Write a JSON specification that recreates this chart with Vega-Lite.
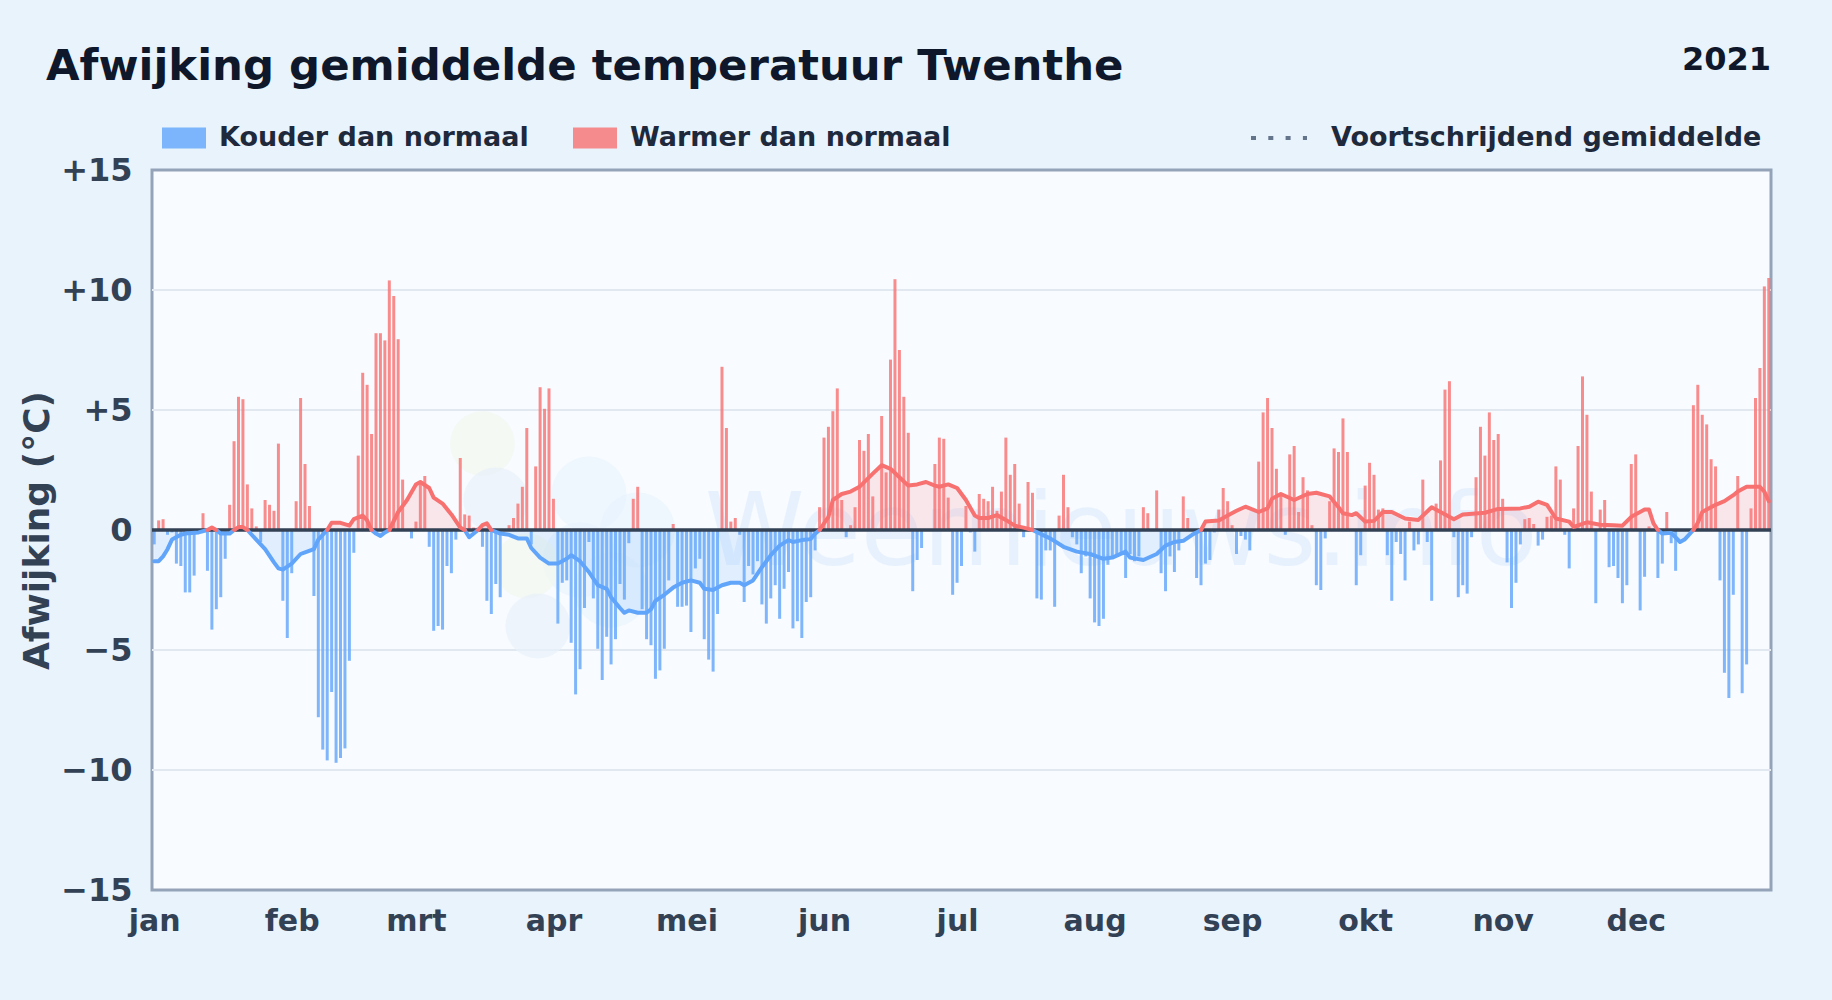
{
"$schema":"https://vega.github.io/schema/vega-lite/v6.json",
"autosize":"none",
"width":1619,"height":720,
"padding":{"left":152,"top":170,"right":61,"bottom":110},
"background":"#e8f3fc",
"view":{"fill":"#f8fbff","stroke":"#94a3b8","strokeWidth":3},
"config":{"font":"DejaVu Sans"},
"title":{"text":"Afwijking gemiddelde temperatuur Twenthe","anchor":"start","frame":"group","dx":-106,"offset":-45,"fontSize":43.4,"fontWeight":"bold","color":"#0f172a","font":"DejaVu Sans"},
"datasets":{
"koud":[{"dag":0,"w":-0.6},{"dag":3,"w":-0.2},{"dag":4,"w":-0.1},{"dag":5,"w":-1.4},{"dag":6,"w":-1.5},{"dag":7,"w":-2.6},{"dag":8,"w":-2.6},{"dag":9,"w":-1.9},{"dag":12,"w":-1.7},{"dag":13,"w":-4.15},{"dag":14,"w":-3.3},{"dag":15,"w":-2.8},{"dag":16,"w":-1.2},{"dag":24,"w":-0.5},{"dag":29,"w":-2.95},{"dag":30,"w":-4.5},{"dag":31,"w":-1.8},{"dag":36,"w":-2.75},{"dag":37,"w":-7.8},{"dag":38,"w":-9.15},{"dag":39,"w":-9.6},{"dag":40,"w":-6.75},{"dag":41,"w":-9.7},{"dag":42,"w":-9.5},{"dag":43,"w":-9.1},{"dag":44,"w":-5.45},{"dag":45,"w":-0.95},{"dag":58,"w":-0.35},{"dag":62,"w":-0.7},{"dag":63,"w":-4.2},{"dag":64,"w":-4},{"dag":65,"w":-4.15},{"dag":66,"w":-1.5},{"dag":67,"w":-1.8},{"dag":68,"w":-0.4},{"dag":74,"w":-0.7},{"dag":75,"w":-2.95},{"dag":76,"w":-3.5},{"dag":77,"w":-2.25},{"dag":78,"w":-2.8},{"dag":85,"w":-0.6},{"dag":91,"w":-3.9},{"dag":92,"w":-2.2},{"dag":93,"w":-2.1},{"dag":94,"w":-4.7},{"dag":95,"w":-6.85},{"dag":96,"w":-5.8},{"dag":97,"w":-3.25},{"dag":98,"w":-0.5},{"dag":99,"w":-2.85},{"dag":100,"w":-4.95},{"dag":101,"w":-6.25},{"dag":102,"w":-4.45},{"dag":103,"w":-5.6},{"dag":104,"w":-4.55},{"dag":105,"w":-2.25},{"dag":106,"w":-2.9},{"dag":107,"w":-0.55},{"dag":110,"w":-3.3},{"dag":111,"w":-4.55},{"dag":112,"w":-4.8},{"dag":113,"w":-6.2},{"dag":114,"w":-5.85},{"dag":115,"w":-4.95},{"dag":116,"w":-2.1},{"dag":118,"w":-3.2},{"dag":119,"w":-3.2},{"dag":120,"w":-3.15},{"dag":121,"w":-4.25},{"dag":122,"w":-1.6},{"dag":123,"w":-1.2},{"dag":124,"w":-4.55},{"dag":125,"w":-5.4},{"dag":126,"w":-5.9},{"dag":127,"w":-3.5},{"dag":132,"w":-0.2},{"dag":133,"w":-3},{"dag":134,"w":-1.5},{"dag":135,"w":-1.85},{"dag":136,"w":-1.3},{"dag":137,"w":-3.1},{"dag":138,"w":-3.9},{"dag":139,"w":-2.85},{"dag":140,"w":-2.3},{"dag":141,"w":-3.7},{"dag":142,"w":-2.45},{"dag":143,"w":-1.75},{"dag":144,"w":-4.1},{"dag":145,"w":-3.8},{"dag":146,"w":-4.5},{"dag":147,"w":-3},{"dag":148,"w":-2.8},{"dag":149,"w":-0.85},{"dag":156,"w":-0.3},{"dag":171,"w":-2.55},{"dag":172,"w":-1.25},{"dag":173,"w":-0.75},{"dag":180,"w":-2.7},{"dag":181,"w":-2.2},{"dag":182,"w":-1.5},{"dag":184,"w":-0.1},{"dag":185,"w":-0.9},{"dag":196,"w":-0.3},{"dag":199,"w":-2.85},{"dag":200,"w":-2.9},{"dag":201,"w":-0.85},{"dag":202,"w":-0.85},{"dag":203,"w":-3.2},{"dag":207,"w":-0.3},{"dag":208,"w":-0.6},{"dag":209,"w":-1.8},{"dag":210,"w":-1.1},{"dag":211,"w":-2.85},{"dag":212,"w":-3.85},{"dag":213,"w":-4},{"dag":214,"w":-3.7},{"dag":215,"w":-1.45},{"dag":216,"w":-1.2},{"dag":217,"w":-1.1},{"dag":218,"w":-1},{"dag":219,"w":-2},{"dag":220,"w":-1},{"dag":221,"w":-1.3},{"dag":222,"w":-1.1},{"dag":227,"w":-1.8},{"dag":228,"w":-2.55},{"dag":229,"w":-1.1},{"dag":230,"w":-1.75},{"dag":231,"w":-0.85},{"dag":235,"w":-2},{"dag":236,"w":-2.3},{"dag":237,"w":-1.4},{"dag":238,"w":-1.25},{"dag":239,"w":-0.1},{"dag":244,"w":-1},{"dag":245,"w":-0.25},{"dag":246,"w":-0.4},{"dag":247,"w":-0.85},{"dag":255,"w":-0.2},{"dag":262,"w":-2.3},{"dag":263,"w":-2.5},{"dag":264,"w":-0.35},{"dag":271,"w":-2.3},{"dag":272,"w":-1.05},{"dag":278,"w":-1.05},{"dag":279,"w":-2.95},{"dag":280,"w":-0.5},{"dag":281,"w":-1},{"dag":282,"w":-2.1},{"dag":284,"w":-0.85},{"dag":285,"w":-0.6},{"dag":287,"w":-0.5},{"dag":288,"w":-2.95},{"dag":293,"w":-0.3},{"dag":294,"w":-2.8},{"dag":295,"w":-2.3},{"dag":296,"w":-2.65},{"dag":297,"w":-0.3},{"dag":305,"w":-1.35},{"dag":306,"w":-3.25},{"dag":307,"w":-2.2},{"dag":308,"w":-0.6},{"dag":312,"w":-0.65},{"dag":313,"w":-0.4},{"dag":318,"w":-0.2},{"dag":319,"w":-1.6},{"dag":325,"w":-3.05},{"dag":328,"w":-1.55},{"dag":329,"w":-1.5},{"dag":330,"w":-2},{"dag":331,"w":-3.05},{"dag":332,"w":-2.3},{"dag":335,"w":-3.35},{"dag":336,"w":-1.95},{"dag":339,"w":-2},{"dag":340,"w":-1.4},{"dag":342,"w":-0.55},{"dag":343,"w":-1.7},{"dag":353,"w":-2.1},{"dag":354,"w":-5.95},{"dag":355,"w":-7},{"dag":356,"w":-2.7},{"dag":358,"w":-6.8},{"dag":359,"w":-5.6}],
"warm":[{"dag":1,"w":0.4},{"dag":2,"w":0.45},{"dag":11,"w":0.7},{"dag":17,"w":1.05},{"dag":18,"w":3.7},{"dag":19,"w":5.55},{"dag":20,"w":5.45},{"dag":21,"w":1.9},{"dag":22,"w":0.9},{"dag":23,"w":0.15},{"dag":25,"w":1.25},{"dag":26,"w":1.05},{"dag":27,"w":0.8},{"dag":28,"w":3.6},{"dag":32,"w":1.2},{"dag":33,"w":5.5},{"dag":34,"w":2.75},{"dag":35,"w":1},{"dag":46,"w":3.1},{"dag":47,"w":6.55},{"dag":48,"w":6.05},{"dag":49,"w":4},{"dag":50,"w":8.2},{"dag":51,"w":8.2},{"dag":52,"w":7.9},{"dag":53,"w":10.4},{"dag":54,"w":9.75},{"dag":55,"w":7.95},{"dag":56,"w":2.1},{"dag":59,"w":0.35},{"dag":60,"w":2},{"dag":61,"w":2.25},{"dag":69,"w":3},{"dag":70,"w":0.65},{"dag":71,"w":0.6},{"dag":72,"w":0.1},{"dag":73,"w":0.1},{"dag":80,"w":0.2},{"dag":81,"w":0.5},{"dag":82,"w":1.1},{"dag":83,"w":1.8},{"dag":84,"w":4.25},{"dag":86,"w":2.65},{"dag":87,"w":5.95},{"dag":88,"w":5.05},{"dag":89,"w":5.9},{"dag":90,"w":1.3},{"dag":108,"w":1.3},{"dag":109,"w":1.8},{"dag":117,"w":0.25},{"dag":128,"w":6.8},{"dag":129,"w":4.25},{"dag":130,"w":0.35},{"dag":131,"w":0.5},{"dag":150,"w":0.95},{"dag":151,"w":3.85},{"dag":152,"w":4.3},{"dag":153,"w":4.95},{"dag":154,"w":5.9},{"dag":155,"w":1.25},{"dag":157,"w":0.2},{"dag":158,"w":0.95},{"dag":159,"w":3.75},{"dag":160,"w":3.3},{"dag":161,"w":4},{"dag":162,"w":1.4},{"dag":164,"w":4.75},{"dag":165,"w":2.4},{"dag":166,"w":7.1},{"dag":167,"w":10.45},{"dag":168,"w":7.5},{"dag":169,"w":5.55},{"dag":170,"w":4.05},{"dag":176,"w":2.75},{"dag":177,"w":3.85},{"dag":178,"w":3.8},{"dag":179,"w":1.35},{"dag":183,"w":1},{"dag":186,"w":1.5},{"dag":187,"w":1.3},{"dag":188,"w":1.2},{"dag":189,"w":1.8},{"dag":190,"w":0.8},{"dag":191,"w":1.6},{"dag":192,"w":3.85},{"dag":193,"w":2.3},{"dag":194,"w":2.75},{"dag":195,"w":1.1},{"dag":197,"w":2},{"dag":198,"w":1.55},{"dag":204,"w":0.6},{"dag":205,"w":2.3},{"dag":206,"w":0.95},{"dag":223,"w":0.95},{"dag":224,"w":0.7},{"dag":226,"w":1.65},{"dag":232,"w":1.4},{"dag":233,"w":0.5},{"dag":240,"w":0.85},{"dag":241,"w":1.75},{"dag":242,"w":1.2},{"dag":243,"w":0.2},{"dag":249,"w":2.85},{"dag":250,"w":4.9},{"dag":251,"w":5.5},{"dag":252,"w":4.25},{"dag":253,"w":2.55},{"dag":254,"w":1.45},{"dag":256,"w":3.15},{"dag":257,"w":3.5},{"dag":258,"w":0.75},{"dag":259,"w":2.2},{"dag":260,"w":1.65},{"dag":261,"w":0.2},{"dag":265,"w":1.2},{"dag":266,"w":3.4},{"dag":267,"w":3.25},{"dag":268,"w":4.65},{"dag":269,"w":3.25},{"dag":273,"w":1.85},{"dag":274,"w":2.8},{"dag":275,"w":2.3},{"dag":276,"w":0.85},{"dag":277,"w":0.9},{"dag":283,"w":0.35},{"dag":286,"w":2.1},{"dag":289,"w":1.1},{"dag":290,"w":2.9},{"dag":291,"w":5.85},{"dag":292,"w":6.2},{"dag":298,"w":2.2},{"dag":299,"w":4.3},{"dag":300,"w":3.1},{"dag":301,"w":4.9},{"dag":302,"w":3.75},{"dag":303,"w":4},{"dag":304,"w":1.3},{"dag":309,"w":0.45},{"dag":310,"w":0.5},{"dag":311,"w":0.25},{"dag":314,"w":0.55},{"dag":315,"w":0.6},{"dag":316,"w":2.65},{"dag":317,"w":2.1},{"dag":320,"w":0.9},{"dag":321,"w":3.5},{"dag":322,"w":6.4},{"dag":323,"w":4.8},{"dag":324,"w":1.6},{"dag":326,"w":0.85},{"dag":327,"w":1.25},{"dag":333,"w":2.75},{"dag":334,"w":3.15},{"dag":337,"w":0.15},{"dag":341,"w":0.75},{"dag":347,"w":5.2},{"dag":348,"w":6.05},{"dag":349,"w":4.8},{"dag":350,"w":4.4},{"dag":351,"w":2.95},{"dag":352,"w":2.65},{"dag":357,"w":2.25},{"dag":360,"w":0.9},{"dag":361,"w":5.5},{"dag":362,"w":6.75},{"dag":363,"w":10.15},{"dag":364,"w":10.5}],
"gemKoud":[{"seg":"A","dag":0,"w":-1.3},{"seg":"A","dag":1,"w":-1.3},{"seg":"A","dag":2,"w":-1.1},{"seg":"A","dag":3,"w":-0.8},{"seg":"A","dag":4,"w":-0.4},{"seg":"A","dag":6,"w":-0.2},{"seg":"A","dag":7,"w":-0.15},{"seg":"A","dag":10,"w":-0.1},{"seg":"A","dag":12,"w":0},{"seg":"B","dag":14,"w":0},{"seg":"B","dag":15,"w":-0.15},{"seg":"B","dag":17,"w":-0.15},{"seg":"B","dag":18,"w":0},{"seg":"C","dag":21,"w":0},{"seg":"C","dag":23,"w":-0.4},{"seg":"C","dag":25,"w":-0.8},{"seg":"C","dag":27,"w":-1.35},{"seg":"C","dag":28,"w":-1.6},{"seg":"C","dag":29,"w":-1.65},{"seg":"C","dag":31,"w":-1.4},{"seg":"C","dag":33,"w":-1},{"seg":"C","dag":34,"w":-0.93},{"seg":"C","dag":36,"w":-0.8},{"seg":"C","dag":37,"w":-0.4},{"seg":"C","dag":39,"w":0},{"seg":"D","dag":49,"w":0},{"seg":"D","dag":50,"w":-0.15},{"seg":"D","dag":51,"w":-0.25},{"seg":"D","dag":52,"w":-0.1},{"seg":"D","dag":53,"w":0},{"seg":"E","dag":70,"w":0},{"seg":"E","dag":71,"w":-0.3},{"seg":"E","dag":73,"w":0},{"seg":"F","dag":76,"w":0},{"seg":"F","dag":78,"w":-0.15},{"seg":"F","dag":80,"w":-0.2},{"seg":"F","dag":82,"w":-0.35},{"seg":"F","dag":84,"w":-0.35},{"seg":"F","dag":85,"w":-0.75},{"seg":"F","dag":87,"w":-1.15},{"seg":"F","dag":89,"w":-1.4},{"seg":"F","dag":91,"w":-1.4},{"seg":"F","dag":93,"w":-1.2},{"seg":"F","dag":94,"w":-1.05},{"seg":"F","dag":96,"w":-1.3},{"seg":"F","dag":98,"w":-1.75},{"seg":"F","dag":100,"w":-2.3},{"seg":"F","dag":102,"w":-2.45},{"seg":"F","dag":103,"w":-2.8},{"seg":"F","dag":105,"w":-3.25},{"seg":"F","dag":106,"w":-3.45},{"seg":"F","dag":107,"w":-3.35},{"seg":"F","dag":109,"w":-3.45},{"seg":"F","dag":111,"w":-3.45},{"seg":"F","dag":112,"w":-3.3},{"seg":"F","dag":113,"w":-2.95},{"seg":"F","dag":115,"w":-2.7},{"seg":"F","dag":117,"w":-2.4},{"seg":"F","dag":119,"w":-2.2},{"seg":"F","dag":121,"w":-2.1},{"seg":"F","dag":123,"w":-2.2},{"seg":"F","dag":124,"w":-2.45},{"seg":"F","dag":126,"w":-2.5},{"seg":"F","dag":128,"w":-2.3},{"seg":"F","dag":130,"w":-2.2},{"seg":"F","dag":132,"w":-2.2},{"seg":"F","dag":133,"w":-2.3},{"seg":"F","dag":135,"w":-2.1},{"seg":"F","dag":137,"w":-1.55},{"seg":"F","dag":139,"w":-1.05},{"seg":"F","dag":141,"w":-0.65},{"seg":"F","dag":143,"w":-0.42},{"seg":"F","dag":144,"w":-0.5},{"seg":"F","dag":146,"w":-0.42},{"seg":"F","dag":148,"w":-0.38},{"seg":"F","dag":149,"w":-0.15},{"seg":"F","dag":150,"w":0},{"seg":"G","dag":198,"w":0},{"seg":"G","dag":200,"w":-0.18},{"seg":"G","dag":202,"w":-0.35},{"seg":"G","dag":205,"w":-0.7},{"seg":"G","dag":208,"w":-0.9},{"seg":"G","dag":211,"w":-1},{"seg":"G","dag":214,"w":-1.2},{"seg":"G","dag":216,"w":-1.15},{"seg":"G","dag":219,"w":-0.9},{"seg":"G","dag":220,"w":-1.15},{"seg":"G","dag":223,"w":-1.25},{"seg":"G","dag":226,"w":-1},{"seg":"G","dag":228,"w":-0.65},{"seg":"G","dag":230,"w":-0.5},{"seg":"G","dag":232,"w":-0.45},{"seg":"G","dag":234,"w":-0.2},{"seg":"G","dag":236,"w":0},{"seg":"H","dag":339,"w":0},{"seg":"H","dag":340,"w":-0.15},{"seg":"H","dag":342,"w":-0.12},{"seg":"H","dag":344,"w":-0.5},{"seg":"H","dag":345,"w":-0.4},{"seg":"H","dag":347,"w":0}],
"gemWarm":[{"seg":"a","dag":12,"w":0},{"seg":"a","dag":13,"w":0.1},{"seg":"a","dag":14,"w":0},{"seg":"b","dag":18,"w":0},{"seg":"b","dag":19,"w":0.12},{"seg":"b","dag":20,"w":0.12},{"seg":"b","dag":21,"w":0},{"seg":"c","dag":39,"w":0},{"seg":"c","dag":40,"w":0.3},{"seg":"c","dag":42,"w":0.3},{"seg":"c","dag":44,"w":0.18},{"seg":"c","dag":45,"w":0.45},{"seg":"c","dag":47,"w":0.6},{"seg":"c","dag":48,"w":0.4},{"seg":"c","dag":49,"w":0},{"seg":"d","dag":53,"w":0},{"seg":"d","dag":55,"w":0.75},{"seg":"d","dag":57,"w":1.25},{"seg":"d","dag":59,"w":1.9},{"seg":"d","dag":60,"w":2},{"seg":"d","dag":62,"w":1.75},{"seg":"d","dag":63,"w":1.35},{"seg":"d","dag":65,"w":1.1},{"seg":"d","dag":67,"w":0.65},{"seg":"d","dag":69,"w":0.1},{"seg":"d","dag":70,"w":0},{"seg":"e","dag":73,"w":0},{"seg":"e","dag":74,"w":0.2},{"seg":"e","dag":75,"w":0.28},{"seg":"e","dag":76,"w":0},{"seg":"f","dag":150,"w":0},{"seg":"f","dag":152,"w":0.55},{"seg":"f","dag":153,"w":1.25},{"seg":"f","dag":155,"w":1.5},{"seg":"f","dag":157,"w":1.6},{"seg":"f","dag":159,"w":1.8},{"seg":"f","dag":162,"w":2.35},{"seg":"f","dag":164,"w":2.7},{"seg":"f","dag":166,"w":2.55},{"seg":"f","dag":168,"w":2.2},{"seg":"f","dag":170,"w":1.85},{"seg":"f","dag":172,"w":1.9},{"seg":"f","dag":174,"w":2},{"seg":"f","dag":176,"w":1.85},{"seg":"f","dag":177,"w":1.8},{"seg":"f","dag":179,"w":1.9},{"seg":"f","dag":181,"w":1.75},{"seg":"f","dag":182,"w":1.5},{"seg":"f","dag":183,"w":1.25},{"seg":"f","dag":185,"w":0.6},{"seg":"f","dag":186,"w":0.5},{"seg":"f","dag":188,"w":0.5},{"seg":"f","dag":190,"w":0.62},{"seg":"f","dag":192,"w":0.42},{"seg":"f","dag":194,"w":0.18},{"seg":"f","dag":196,"w":0.1},{"seg":"f","dag":198,"w":0},{"seg":"g","dag":236,"w":0},{"seg":"g","dag":237,"w":0.35},{"seg":"g","dag":240,"w":0.4},{"seg":"g","dag":242,"w":0.6},{"seg":"g","dag":244,"w":0.8},{"seg":"g","dag":246,"w":0.97},{"seg":"g","dag":249,"w":0.75},{"seg":"g","dag":251,"w":0.9},{"seg":"g","dag":252,"w":1.3},{"seg":"g","dag":254,"w":1.5},{"seg":"g","dag":257,"w":1.25},{"seg":"g","dag":260,"w":1.5},{"seg":"g","dag":262,"w":1.55},{"seg":"g","dag":265,"w":1.4},{"seg":"g","dag":267,"w":0.95},{"seg":"g","dag":268,"w":0.7},{"seg":"g","dag":270,"w":0.62},{"seg":"g","dag":271,"w":0.7},{"seg":"g","dag":273,"w":0.35},{"seg":"g","dag":275,"w":0.38},{"seg":"g","dag":277,"w":0.75},{"seg":"g","dag":279,"w":0.75},{"seg":"g","dag":282,"w":0.48},{"seg":"g","dag":285,"w":0.42},{"seg":"g","dag":288,"w":0.95},{"seg":"g","dag":290,"w":0.75},{"seg":"g","dag":293,"w":0.45},{"seg":"g","dag":295,"w":0.65},{"seg":"g","dag":300,"w":0.72},{"seg":"g","dag":303,"w":0.88},{"seg":"g","dag":308,"w":0.9},{"seg":"g","dag":310,"w":0.97},{"seg":"g","dag":312,"w":1.18},{"seg":"g","dag":314,"w":1.05},{"seg":"g","dag":316,"w":0.48},{"seg":"g","dag":319,"w":0.35},{"seg":"g","dag":320,"w":0.13},{"seg":"g","dag":323,"w":0.32},{"seg":"g","dag":326,"w":0.22},{"seg":"g","dag":329,"w":0.2},{"seg":"g","dag":331,"w":0.18},{"seg":"g","dag":333,"w":0.55},{"seg":"g","dag":336,"w":0.85},{"seg":"g","dag":337,"w":0.85},{"seg":"g","dag":338,"w":0.28},{"seg":"g","dag":339,"w":0},{"seg":"h","dag":347,"w":0},{"seg":"h","dag":348,"w":0.3},{"seg":"h","dag":349,"w":0.75},{"seg":"h","dag":350,"w":0.85},{"seg":"h","dag":352,"w":1.05},{"seg":"h","dag":354,"w":1.2},{"seg":"h","dag":356,"w":1.45},{"seg":"h","dag":357,"w":1.6},{"seg":"h","dag":359,"w":1.8},{"seg":"h","dag":362,"w":1.8},{"seg":"h","dag":363,"w":1.6},{"seg":"h","dag":364,"w":1.2}]
},
"layer":[
{"data":{"values":[{"w":-10},{"w":-5},{"w":5},{"w":10}]},"mark":{"type":"rule","color":"#e2e8f0","strokeWidth":2},"encoding":{"y":{"field":"w","type":"quantitative","scale":{"domain":[-15,15],"nice":false},"axis":{"values":[-15,-10,-5,0,5,10,15],"title":"Afwijking (°C)","titleFontSize":36,"titleFontWeight":"bold","titleColor":"#334155","titlePadding":4,"labelExpr":"datum.value>0?'+'+datum.value:(datum.value<0?'−'+abs(datum.value):'0')","labelFontSize":32,"labelFontWeight":"bold","labelColor":"#334155","labelPadding":20,"ticks":false,"domain":false,"grid":false,"labelFont":"DejaVu Sans","titleFont":"DejaVu Sans"}}}},
{"data":{"values":[{"dag":98,"w":1.5},{"dag":109,"w":0},{"dag":103,"w":-2.5},{"dag":96,"w":-1.25}]},"mark":{"type":"point","filled":true,"size":5600,"color":"#e3f2fe","opacity":0.5},
 "encoding":{"x":{"field":"dag","type":"quantitative","scale":{"domain":[-0.5,364.5],"nice":false,"zero":false,"padding":0},"axis":{"values":[0,31,59,90,120,151,181,212,243,273,304,334],"title":null,"labelExpr":"{'0':'jan','31':'feb','59':'mrt','90':'apr','120':'mei','151':'jun','181':'jul','212':'aug','243':'sep','273':'okt','304':'nov','334':'dec'}[datum.value]","labelFontSize":30,"labelFontWeight":"bold","labelColor":"#334155","labelPadding":16,"ticks":false,"domain":false,"grid":false,"labelFont":"DejaVu Sans","labelFlush":false,"labelOverlap":false}},
 "y":{"field":"w","type":"quantitative"}}},
{"data":{"values":[{"dag":74,"w":3.6},{"dag":84,"w":-1.5}]},"mark":{"type":"point","filled":true,"size":4200,"color":"#f2f8ee","opacity":0.7},"encoding":{"x":{"field":"dag","type":"quantitative"},"y":{"field":"w","type":"quantitative"}}},
{"data":{"values":[{"dag":77,"w":1.25},{"dag":86.5,"w":-4}]},"mark":{"type":"point","filled":true,"size":4200,"color":"#e8f1fa","opacity":0.7},"encoding":{"x":{"field":"dag","type":"quantitative"},"y":{"field":"w","type":"quantitative"}}},
{"data":{"values":[{"dag":218,"w":-1.46,"merk":"Weernieuws.info"}]},"mark":{"type":"text","fontSize":101,"font":"DejaVu Sans","color":"#60a5fa","opacity":0.1,"align":"center","baseline":"alphabetic"},"encoding":{"x":{"field":"dag","type":"quantitative"},"y":{"field":"w","type":"quantitative"},"text":{"field":"merk"}}},
{"data":{"name":"gemKoud"},"mark":{"type":"area","color":"#60a5fa","opacity":0.15},"encoding":{"x":{"field":"dag","type":"quantitative"},"y":{"field":"w","type":"quantitative"},"y2":{"datum":0},"detail":{"field":"seg"}}},
{"data":{"name":"gemWarm"},"mark":{"type":"area","color":"#f87171","opacity":0.15},"encoding":{"x":{"field":"dag","type":"quantitative"},"y":{"field":"w","type":"quantitative"},"y2":{"datum":0},"detail":{"field":"seg"}}},
{"data":{"name":"koud"},"mark":{"type":"bar","width":3,"opacity":0.8},"encoding":{"x":{"field":"dag","type":"quantitative"},"y":{"field":"w","type":"quantitative"},"color":{"datum":"Kouder dan normaal","scale":{"domain":["Kouder dan normaal","Warmer dan normaal"],"range":["#60a5fa","#f87171"]},"legend":{"title":null,"orient":"none","direction":"horizontal","columns":2,"legendX":10,"legendY":-54,"symbolType":"M-1,-0.48H1V0.48H-1Z","symbolSize":1936,"symbolStrokeWidth":0,"labelFontSize":27,"labelFontWeight":"bold","labelColor":"#1e293b","labelFont":"DejaVu Sans","labelOffset":13,"columnPadding":44,"padding":0,"labelLimit":500}}}},
{"data":{"name":"warm"},"mark":{"type":"bar","width":3,"opacity":0.8},"encoding":{"x":{"field":"dag","type":"quantitative"},"y":{"field":"w","type":"quantitative"},"color":{"datum":"Warmer dan normaal"}}},
{"data":{"values":[{}]},"mark":{"type":"rule","color":"#334155","strokeWidth":3.5},"encoding":{"y":{"datum":0}}},
{"data":{"name":"gemKoud"},"mark":{"type":"line","color":"#60a5fa","strokeWidth":4,"strokeJoin":"round","strokeCap":"round"},"encoding":{"x":{"field":"dag","type":"quantitative"},"y":{"field":"w","type":"quantitative"},"detail":{"field":"seg"}}},
{"data":{"name":"gemWarm"},"mark":{"type":"line","color":"#f87171","strokeWidth":4,"strokeJoin":"round","strokeCap":"round"},"encoding":{"x":{"field":"dag","type":"quantitative"},"y":{"field":"w","type":"quantitative"},"detail":{"field":"seg"}}},
{"data":{"values":[]},"mark":{"type":"rule","color":"#64748b","strokeWidth":4},"encoding":{"y":{"field":"w","type":"quantitative"},"strokeDash":{"datum":"Voortschrijdend gemiddelde","scale":{"range":[[5,12.3]]},"legend":{"title":null,"orient":"none","legendX":1097,"legendY":-62,"symbolType":"stroke","symbolSize":3136,"symbolStrokeWidth":4,"labelFontSize":27,"labelFontWeight":"bold","labelColor":"#1e293b","labelFont":"DejaVu Sans","labelOffset":22,"padding":0,"labelLimit":600}}}},
{"data":{"values":[{"dag":364.5,"w":19.15,"jaar":"2021"}]},"mark":{"type":"text","fontSize":32,"fontWeight":"bold","font":"DejaVu Sans","color":"#0f172a","align":"right","baseline":"alphabetic"},"encoding":{"x":{"field":"dag","type":"quantitative"},"y":{"field":"w","type":"quantitative"},"text":{"field":"jaar"}}}
]
}
